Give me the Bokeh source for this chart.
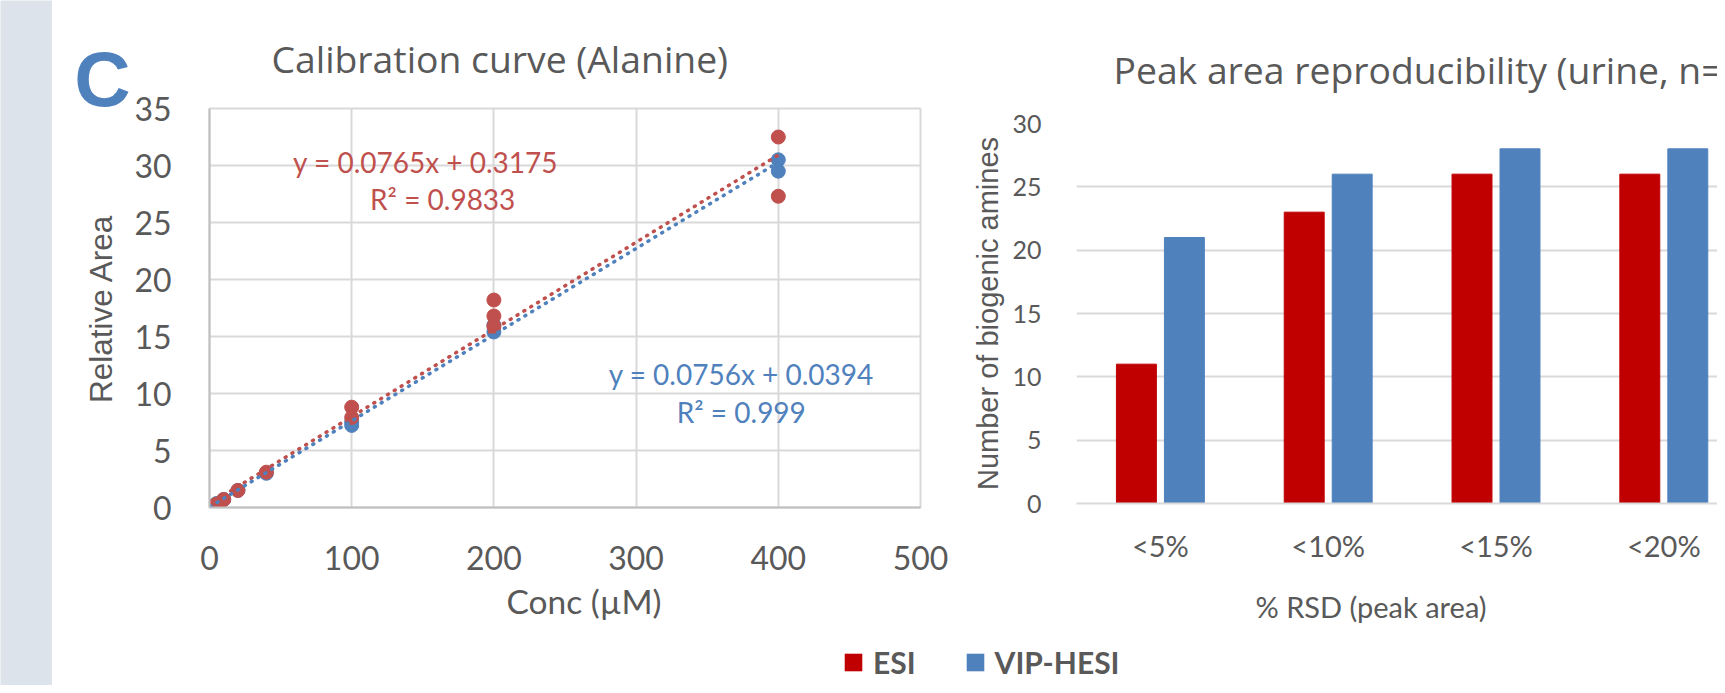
import numpy as np
from bokeh.plotting import figure
from bokeh.layouts import row, column
from bokeh.models import Legend, LegendItem, FixedTicker, Range1d, Title
from bokeh.core.properties import value
from bokeh.embed import file_html
from bokeh.resources import INLINE

# ---------------- data ----------------
esi_conc = [0.5, 5, 10, 20, 40, 100, 100, 200, 200, 200, 400, 400]
esi_area = [0.05, 0.3, 0.7, 1.5, 3.1, 8.8, 7.9, 18.2, 16.8, 15.9, 32.5, 27.3]
vip_conc = [0.5, 5, 10, 20, 40, 100, 100, 200, 200, 400, 400]
vip_area = [0.05, 0.35, 0.7, 1.5, 3.0, 7.5, 7.2, 16.0, 15.4, 30.5, 29.5]
esi_slope, esi_icpt, esi_r2 = 0.0765, 0.3175, 0.9833
vip_slope, vip_icpt, vip_r2 = 0.0756, 0.0394, 0.999
cal_x_ticks = [0, 100, 200, 300, 400, 500]
cal_y_ticks = [0, 5, 10, 15, 20, 25, 30, 35]

rsd_cats = ["<5%", "<10%", "<15%", "<20%"]
esi_counts = [11, 23, 26, 26]
vip_counts = [21, 26, 28, 28]
rsd_y_ticks = [0, 5, 10, 15, 20, 25, 30]

series_names = ["ESI", "VIP-HESI"]
panel_letter = "C"
cal_title = "Calibration curve (Alanine)"
cal_xlabel = "Conc (µM)"
cal_ylabel = "Relative Area"
rsd_title = "Peak area reproducibility (urine, n=7)"
rsd_xlabel = "% RSD (peak area)"
rsd_ylabel = "Number of biogenic amines"

# ---------------- style ----------------
FONT = "Lato"
TFONT = "Open Sans"
AFONT = "Liberation Sans"
GRAY = "#595959"
GRID = "#d9d9d9"
RED_PT = "#C0504D"
BLUE = "#4F81BD"
RED_BAR = "#C00000"
STRIP = "#dce3ea"
TOP_H = 645
LEG_H = 40
GUT_X0, GUT_X1 = 52, 131

figs = []
def fig(**kw):
    p = figure(output_backend="svg", toolbar_location=None, **kw)
    p.outline_line_color = None
    p.background_fill_color = "white"
    p.border_fill_color = "white"
    figs.append(p)
    return p

# ---------------- side strip ----------------
strip = fig(width=GUT_X0, height=TOP_H + LEG_H, x_range=(0, 1), y_range=(0, 1), title=None,
            x_axis_location=None, y_axis_location=None, min_border=0)
strip.grid.visible = False
strip.background_fill_color = STRIP
strip.border_fill_color = STRIP

# ---------------- gutter: panel letter + y axis title of left chart ----------------
gut = fig(width=GUT_X1 - GUT_X0, height=TOP_H, x_range=Range1d(GUT_X0, GUT_X1),
          y_range=Range1d(0, TOP_H), title=None,
          x_axis_location=None, y_axis_location=None, min_border=0)
gut.grid.visible = False
gut.text(x=[102], y=[TOP_H - 78], text=[panel_letter], text_font=value(AFONT),
         text_font_style="bold", text_font_size="78px", text_color=BLUE,
         text_align="center", text_baseline="middle")
gut.text(x=[100], y=[TOP_H - 308], text=[cal_ylabel], text_font=value(AFONT),
         text_font_size="31.5px", text_color=GRAY, angle=np.pi / 2,
         text_align="center", text_baseline="middle")

# ---------------- calibration curve ----------------
left = fig(width=960 - GUT_X1, height=TOP_H, x_range=Range1d(0, 500), y_range=Range1d(0, 35),
           title=cal_title,
           min_border_left=201 - GUT_X1, min_border_right=40, min_border_top=108,
           min_border_bottom=TOP_H - 507)
left.title.align = "left"
left.title.offset = 62
left.title.text_font = TFONT
left.title.text_font_style = "normal"
left.title.text_font_size = "37.3px"
left.title.text_color = GRAY
left.title.standoff = 49
left.xaxis.ticker = FixedTicker(ticks=cal_x_ticks)
left.yaxis.ticker = FixedTicker(ticks=cal_y_ticks)
for ax in (left.xaxis[0], left.yaxis[0]):
    ax.major_tick_line_color = None
    ax.minor_tick_line_color = None
    ax.axis_line_color = "#bfbfbf"
    ax.axis_line_width = 2
    ax.major_label_text_font = FONT
    ax.major_label_text_font_size = "32px"
    ax.major_label_text_color = GRAY
left.xaxis.major_label_standoff = 32
left.yaxis.major_label_standoff = 32
left.add_layout(Title(text=cal_xlabel, align="left", offset=297, standoff=13,
                      text_font=FONT, text_font_style="normal", text_font_size="33.5px",
                      text_color=GRAY), "below")
left.grid.grid_line_color = GRID
left.grid.grid_line_width = 2
left.outline_line_color = GRID
left.outline_line_width = 2

left.scatter(vip_conc, vip_area, size=14, color=BLUE)
left.scatter(esi_conc, esi_area, size=14, color=RED_PT)
for conc, slope, icpt, col in ((esi_conc, esi_slope, esi_icpt, RED_PT),
                               (vip_conc, vip_slope, vip_icpt, BLUE)):
    fx = [min(conc), max(conc)]
    left.line(fx, [slope * v + icpt for v in fx], color=col, line_width=3.5,
              line_dash="1 7", line_cap="round")

eq_x = [152, 164, 374, 374]
eq_y = [30.35, 27.1, 11.7, 8.4]
eq_txt = [f"y = {esi_slope}x + {esi_icpt}", f"R² = {esi_r2}",
          f"y = {vip_slope}x + {vip_icpt}", f"R² = {vip_r2}"]
eq_col = [RED_PT, RED_PT, BLUE, BLUE]
left.text(x=eq_x, y=eq_y, text=eq_txt, text_color=eq_col, text_font=value(FONT),
          text_font_size="28px", text_align="center", text_baseline="middle")

# ---------------- reproducibility bars ----------------
right = fig(width=757, height=TOP_H, x_range=Range1d(-0.5, 3.32), y_range=Range1d(0, 30),
            title=rsd_title,
            min_border_left=116, min_border_right=0, min_border_top=123,
            min_border_bottom=TOP_H - 503)
right.title.align = "left"
right.title.offset = 37
right.title.text_font = TFONT
right.title.text_font_style = "normal"
right.title.text_font_size = "37.3px"
right.title.text_color = GRAY
right.title.standoff = 57
idx = np.arange(len(rsd_cats))
right.vbar(x=idx - 0.143, top=esi_counts, width=0.238, color=RED_BAR)
right.vbar(x=idx + 0.143, top=vip_counts, width=0.238, color=BLUE)
right.xaxis.ticker = FixedTicker(ticks=[int(i) for i in idx])
right.xaxis.major_label_overrides = {int(i): c for i, c in zip(idx, rsd_cats)}
right.yaxis.ticker = FixedTicker(ticks=rsd_y_ticks)
right.xgrid.visible = False
right.ygrid.grid_line_color = GRID
right.ygrid.grid_line_width = 2
for ax in (right.xaxis[0], right.yaxis[0]):
    ax.major_tick_line_color = None
    ax.minor_tick_line_color = None
    ax.major_label_text_font = FONT
    ax.major_label_text_color = GRAY
right.yaxis.axis_line_color = None
right.xaxis.axis_line_color = GRID
right.xaxis.axis_line_width = 2
right.yaxis.major_label_text_font_size = "25px"
right.xaxis.major_label_text_font_size = "29px"
right.yaxis.major_label_standoff = 29
right.xaxis.major_label_standoff = 18
right.yaxis.axis_label = rsd_ylabel
right.yaxis.axis_label_text_font = AFONT
right.yaxis.axis_label_text_font_style = "normal"
right.yaxis.axis_label_text_font_size = "29px"
right.yaxis.axis_label_text_color = GRAY
right.yaxis.axis_label_standoff = 5
right.add_layout(Title(text=rsd_xlabel, align="left", offset=179, standoff=42,
                       text_font=FONT, text_font_style="normal", text_font_size="29px",
                       text_color=GRAY), "below")

# ---------------- legend ----------------
leg = fig(width=1665, height=LEG_H, x_range=Range1d(-0.5, 3.5), y_range=Range1d(0, 30), title=None,
          x_axis_location=None, y_axis_location=None, min_border=0)
leg.grid.visible = False
# hidden renderers: they only lend their colour to the legend swatches
r1 = leg.vbar(x=idx, top=esi_counts, width=0.2, fill_color=RED_BAR, line_color=None, visible=False)
r2 = leg.vbar(x=idx, top=vip_counts, width=0.2, fill_color=BLUE, line_color=None, visible=False)
legend = Legend(items=[LegendItem(label=series_names[0], renderers=[r1]),
                       LegendItem(label=series_names[1], renderers=[r2])],
                orientation="horizontal", location=(790, 5), click_policy="none",
                glyph_width=22, glyph_height=22, label_standoff=9, spacing=48,
                padding=0, margin=0, border_line_color=None, background_fill_alpha=0,
                inactive_fill_alpha=0,
                label_text_font=FONT, label_text_font_style="bold",
                label_text_font_size="30px", label_text_color=GRAY)
leg.add_layout(legend)

for f in figs:
    try:
        f.frame_align = False
    except Exception:
        pass

layout = row(strip, column(row(gut, left, right), leg))
open("out.html", "w").write(file_html(layout, INLINE))
